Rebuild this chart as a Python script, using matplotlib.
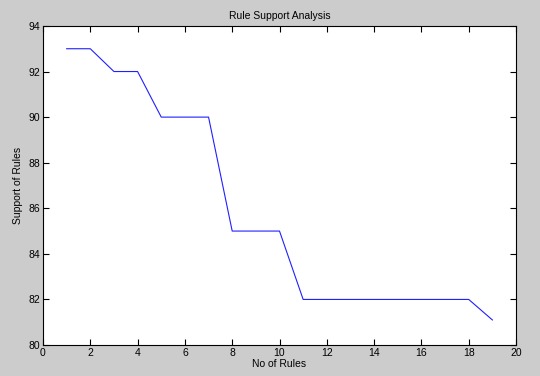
import matplotlib
matplotlib.use("Agg")
import matplotlib.pyplot as plt

rules = list(range(1, 20))
support = [93, 93, 92, 92, 90, 90, 90, 85, 85, 85,
           82, 82, 82, 82, 82, 82, 82, 82, 81.1]
x_ticks = list(range(0, 21, 2))
y_ticks = list(range(80, 95, 2))

plt.rcParams['font.family'] = ['Liberation Sans', 'DejaVu Sans']
plt.rcParams['font.size'] = 7.5

fig = plt.figure(figsize=(5.4, 3.76), dpi=100, facecolor='#cccccc')
ax = fig.add_axes([0.0796, 0.0824, 0.8760, 0.8486])
ax.plot(rules, support, color='#2020ff', linewidth=0.8)

ax.set_xlim(0, 20)
ax.set_ylim(80, 94)
ax.set_xticks(x_ticks)
ax.set_yticks(y_ticks)
ax.tick_params(direction='in', top=True, right=True, length=4, width=0.8,
               labelsize=7.5, pad=2, colors='black')
for s in ax.spines.values():
    s.set_linewidth(0.8)

ax.set_title('Rule Support Analysis', fontsize=7.5, pad=5)
ax.set_xlabel('No of Rules', fontsize=7.5, labelpad=1)
ax.set_ylabel('Support of Rules', fontsize=7.5, labelpad=4)

fig.savefig('out.png', dpi=100, facecolor=fig.get_facecolor())
